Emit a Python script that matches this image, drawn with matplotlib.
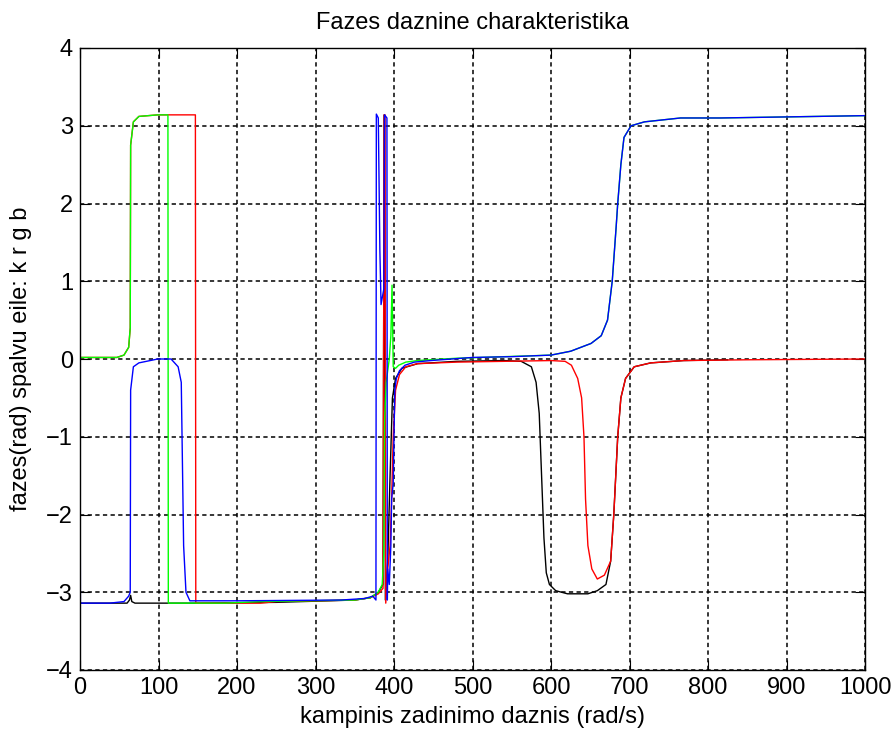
import numpy as np
import matplotlib
matplotlib.use('Agg')
import matplotlib.pyplot as plt

plt.rcParams['font.family'] = ['Liberation Sans', 'DejaVu Sans']

# breakpoints (w in rad/s, phase in rad)
kx = [0, 60, 63, 64.5, 66, 70, 150, 250, 350, 370, 380, 386, 387.5, 388, 389, 392, 395, 398, 402, 410,
      430, 480, 540, 562, 575, 581, 585, 588, 591, 594, 598, 606, 621, 647, 659, 670, 676, 680, 685, 689,
      695, 706, 727, 769, 825]
ky = [-3.14, -3.14, -3.1, -3.04, -3.12, -3.14, -3.14, -3.13, -3.1, -3.07, -3.0, -2.9, 3.14, 3.14, -3.1, -2.6, -1.5, -0.5, -0.25, -0.12,
      -0.06, -0.03, -0.02, -0.03, -0.1, -0.3, -0.7, -1.5, -2.3, -2.75, -2.9, -2.98, -3.02, -3.02, -2.98, -2.9, -2.6, -2.0, -1.0, -0.5,
      -0.25, -0.1, -0.05, -0.02, -0.01]

rx = [0, 47, 56, 62, 64, 64.5, 68, 75, 99, 147, 147.5, 230, 250, 350, 370, 380, 386, 387.5, 388.5, 389.5,
      392, 395, 397, 399, 402, 407, 415, 430, 480, 600, 618, 626, 634, 639, 642, 644, 647, 652, 659, 668,
      676, 680, 685, 689, 695, 706, 727, 769, 850, 1000]
ry = [0.02, 0.02, 0.05, 0.15, 0.4, 2.75, 3.05, 3.12, 3.14, 3.14, -3.14, -3.14, -3.12, -3.1, -3.07, -3.02, -2.95, 3.14, 3.14, -3.14,
      -2.7, -2.4, -1.8, -1.0, -0.4, -0.2, -0.1, -0.06, -0.04, -0.02, -0.03, -0.08, -0.25, -0.5, -1.0, -1.8, -2.4, -2.7, -2.83, -2.78,
      -2.6, -2.0, -1.0, -0.5, -0.25, -0.1, -0.05, -0.02, -0.01, 0.0]

gx = [0, 47, 56, 62, 64, 64.5, 68, 75, 99, 112, 112.5, 185, 230, 350, 370, 380, 385, 387, 388, 390,
      394, 396, 397.5, 399, 402, 406, 415, 430, 480, 600, 625, 651, 664, 672, 678, 683, 685, 689, 693, 702,
      719, 765, 816, 1000]
gy = [0.02, 0.02, 0.05, 0.15, 0.4, 2.75, 3.05, 3.12, 3.14, 3.14, -3.14, -3.14, -3.12, -3.1, -3.07, -3.0, -2.9, -2.5, -0.8, -0.3,
      0.0, 0.3, 0.95, -0.1, -0.12, -0.08, -0.04, -0.02, 0.01, 0.05, 0.1, 0.2, 0.3, 0.5, 1.0, 1.7, 2.0, 2.5, 2.85, 3.0,
      3.05, 3.1, 3.1, 3.13]

bx = [0, 0.5, 38, 56, 62, 64, 64.5, 68, 75, 99, 116, 125, 129, 132, 135, 140, 200, 333, 363, 373,
      377, 377.5, 380, 382, 383.5, 387, 388, 391, 391.5, 392, 394, 396, 397, 399, 401, 403, 407, 414, 426, 447,
      500, 550, 600, 625, 651, 664, 672, 678, 683, 685, 689, 693, 702, 719, 765, 816, 1000]
by = [0, -3.14, -3.14, -3.12, -3.05, -3.0, -0.4, -0.1, -0.05, 0, 0, -0.1, -0.3, -2.4, -3.0, -3.11, -3.11, -3.1, -3.08, -3.05,
      -3.1, 3.15, 3.1, 1.4, 0.7, 0.9, 3.14, 3.1, -3.1, -2.7, -2.9, -2.4, -1.8, -1.6, -0.4, -0.25, -0.15, -0.08, -0.04, -0.02,
      0.02, 0.03, 0.05, 0.1, 0.2, 0.3, 0.5, 1.0, 1.7, 2.0, 2.5, 2.85, 3.0, 3.05, 3.1, 3.1, 3.13]

xticks = [0, 100, 200, 300, 400, 500, 600, 700, 800, 900, 1000]
yticks = [-4, -3, -2, -1, 0, 1, 2, 3, 4]

fig = plt.figure(figsize=(8.92, 7.33), dpi=100)
ax = fig.add_axes([80/892, 1 - 670/733, 785/892, 622/733])

ax.plot(kx, ky, color='k', lw=1)
ax.plot(rx, ry, color='r', lw=1)
ax.plot(gx, gy, color='#00ff00', lw=1)
ax.plot(bx, by, color='b', lw=1)

ax.set_xlim(0, 1000)
ax.set_ylim(-4, 4)
ax.set_xticks(xticks)
ax.set_yticks(yticks)
ax.grid(True, color='k', linestyle=(0, (2.8, 2.2)), lw=1.1)
ax.tick_params(direction='in', length=7, top=True, right=True, labelsize=17, pad=5)
for s in ax.spines.values():
    s.set_linewidth(1.0)

ax.set_title('Fazes daznine charakteristika', fontsize=17, pad=14)
ax.set_xlabel('kampinis zadinimo daznis (rad/s)', fontsize=17, labelpad=5)
ax.set_ylabel('fazes(rad) spalvu eile: k r g b', fontsize=17, labelpad=10)

fig.savefig('out.png', dpi=100)
